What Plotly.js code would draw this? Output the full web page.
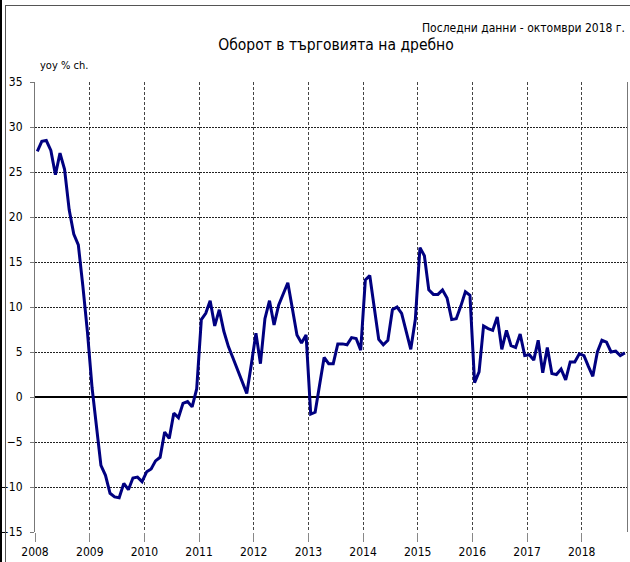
<!DOCTYPE html>
<html><head><meta charset="utf-8">
<script src="https://cdn.plot.ly/plotly-3.0.1.min.js"></script>
<style>
html,body{margin:0;padding:0;background:#fff;}
#wrap{position:relative;width:630px;height:562px;overflow:hidden;}
#chart{position:absolute;left:0;top:0;width:630px;height:562px;}
#lbar{position:absolute;left:0;top:0;width:2px;height:562px;background:#000;z-index:5;}
#frame{position:absolute;left:5px;top:5px;width:640px;height:600px;border-left:1px solid #555;border-top:1px solid #555;pointer-events:none;z-index:5;}
</style></head>
<body><div id="wrap"><div id="chart"></div><div id="lbar"></div><div id="frame"></div></div>
<script>
// Retail trade turnover, yoy % change, monthly
const startYear = 2008;
const v2008 = [27.3, 28.4, 28.5, 27.4, 24.7, 27.1, 25.3, 20.8, 18.1, 16.9, 12.3, 7.2];
const v2009 = [1.0, -3.6, -7.6, -8.7, -10.7, -11.1, -11.2, -9.6, -10.3, -9.0, -8.9, -9.4];
const v2010 = [-8.3, -8.0, -7.1, -6.7, -3.9, -4.6, -1.8, -2.3, -0.7, -0.5, -1.1, 0.9];
const v2011 = [8.6, 9.3, 10.7, 7.9, 9.7, 7.3, 5.6, 4.3, 3.0, 1.7, 0.4, 3.6];
const v2012 = [7.1, 3.7, 8.7, 10.7, 8.0, 10.2, 11.5, 12.7, 9.8, 6.9, 6.0, 6.9];
const v2013 = [-1.9, -1.7, 1.3, 4.4, 3.7, 3.7, 5.9, 5.9, 5.8, 6.6, 6.5, 5.2];
const v2014 = [13.0, 13.5, 10.0, 6.4, 5.8, 6.3, 9.7, 10.0, 9.3, 7.3, 5.3, 8.6];
const v2015 = [16.6, 15.7, 11.9, 11.4, 11.4, 11.9, 11.0, 8.6, 8.7, 10.1, 11.7, 11.3];
const v2016 = [1.6, 2.8, 7.9, 7.6, 7.4, 8.9, 5.3, 7.4, 5.7, 5.5, 7.0, 4.6];
const v2017 = [4.7, 4.1, 6.3, 2.7, 5.5, 2.6, 2.5, 3.1, 1.9, 3.9, 3.9, 4.8];
const v2018 = [4.6, 3.4, 2.3, 5.0, 6.3, 6.1, 5.0, 5.1, 4.6, 4.9];
const yTicks = [-15, -10, -5, 0, 5, 10, 15, 20, 25, 30, 35];
const xTickLabels = ['2008','2009','2010','2011','2012','2013','2014','2015','2016','2017','2018'];
const titleText = 'Оборот в търговията на дребно';
const noteText = 'Последни данни - октомври 2018 г.';
const unitText = 'yoy % ch.';

const yearly = [v2008, v2009, v2010, v2011, v2012, v2013, v2014, v2015, v2016, v2017, v2018];
const xs = [], ys = [];
yearly.forEach((arr, yi) => {
  arr.forEach((v, mi) => {
    xs.push((startYear + yi) + '-' + String(mi + 1).padStart(2, '0') + '-01');
    ys.push(v);
  });
});

const FONT = 'Liberation Sans Narrow, DejaVu Sans Condensed, Arial Narrow, sans-serif';

const trace = {
  type: 'scatter', mode: 'lines', x: xs, y: ys,
  xperiod: 'M1', xperiodalignment: 'middle',
  line: {color: '#000080', width: 3},
  hoverinfo: 'x+y'
};

const layout = {
  width: 630, height: 562,
  margin: {l: 35, r: 3, t: 82, b: 30},
  paper_bgcolor: '#fff', plot_bgcolor: '#fff',
  font: {family: FONT, size: 12, color: '#000'},
  showlegend: false,
  title: {text: titleText, font: {family: FONT, size: 15.5, color: '#000'},
          x: 336/630, xanchor: 'center', xref: 'container',
          y: 1 - 45/562, yanchor: 'middle', yref: 'container'},
  xaxis: {
    type: 'date', range: ['2008-01-01', '2018-10-31'],
    tickvals: xTickLabels.map(y => y + '-01-01'), ticktext: xTickLabels,
    showgrid: true, gridcolor: '#444', griddash: '3px,2px', gridwidth: 1,
    ticks: 'outside', ticklen: 9, tickcolor: '#888', tickwidth: 1,
    showline: false, zeroline: false,
    tickfont: {family: FONT, size: 12, color: '#000'}
  },
  yaxis: {
    range: [-15, 35], tickvals: yTicks,
    showgrid: true, gridcolor: '#222', griddash: '2px,1px', gridwidth: 1,
    zeroline: true, zerolinecolor: '#000', zerolinewidth: 1.5,
    showline: true, linecolor: '#777', linewidth: 1, mirror: true,
    ticks: 'outside', ticklen: 4, tickcolor: '#777',
    ticklabelstandoff: 5,
    tickfont: {family: FONT, size: 12, color: '#000'}
  },
  annotations: [
    {text: noteText, xref: 'paper', yref: 'paper', x: 1.0, y: (532-28)/450,
     xanchor: 'right', yanchor: 'middle', showarrow: false,
     font: {family: FONT, size: 12, color: '#000'}},
    {text: unitText, xref: 'paper', yref: 'paper', x: 3/592, y: (532-65)/450,
     xanchor: 'left', yanchor: 'middle', showarrow: false,
     font: {family: FONT, size: 11, color: '#000'}}
  ]
};

Plotly.newPlot('chart', [trace], layout, {displayModeBar: false, staticPlot: true});
</script>
</body></html>
